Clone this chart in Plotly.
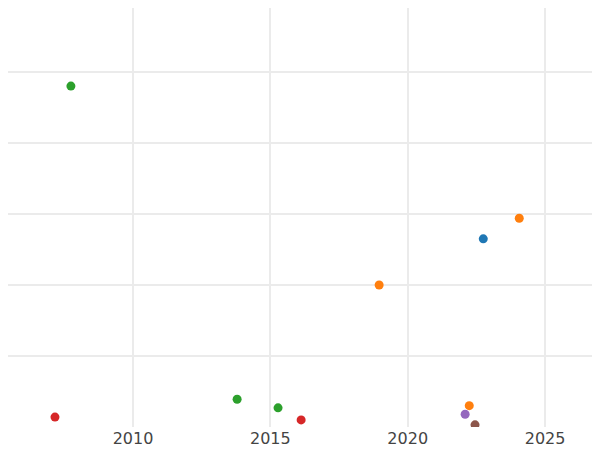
import plotly.graph_objects as go

# year / value per series
blue_x = [2022.75]
blue_y = [2.65]
orange_x = [2018.96, 2024.06, 2022.24]
orange_y = [2.0, 2.94, 0.30]
green_x = [2007.74, 2013.79, 2015.28]
green_y = [4.80, 0.39, 0.27]
red_x = [2007.16, 2016.12]
red_y = [0.14, 0.10]
purple_x = [2022.09]
purple_y = [0.18]
brown_x = [2022.45]
brown_y = [0.03]

series = [
    (blue_x, blue_y, "#1f77b4"),
    (orange_x, orange_y, "#ff7f0e"),
    (green_x, green_y, "#2ca02c"),
    (red_x, red_y, "#d62728"),
    (purple_x, purple_y, "#9467bd"),
    (brown_x, brown_y, "#8c564b"),
]

fig = go.Figure()
for xs, ys, col in series:
    fig.add_trace(go.Scatter(x=xs, y=ys, mode="markers",
                             marker=dict(color=col, size=9), showlegend=False))

fig.update_layout(
    width=600, height=442,
    margin=dict(l=0, r=0, t=0, b=23),
    paper_bgcolor="white", plot_bgcolor="white",
    font=dict(family="DejaVu Sans", size=16, color="#444"),
)
fig.update_xaxes(range=[2005.45, 2027.29], tickvals=[2010, 2015, 2020, 2025],
                 showgrid=True, gridcolor="#ebebeb", gridwidth=2, zeroline=False,
                 ticks="", showline=False)
fig.update_yaxes(range=[0, 5.90], dtick=1, showticklabels=False,
                 showgrid=True, gridcolor="#ebebeb", gridwidth=2, zeroline=False)

fig.write_html("out.html")
